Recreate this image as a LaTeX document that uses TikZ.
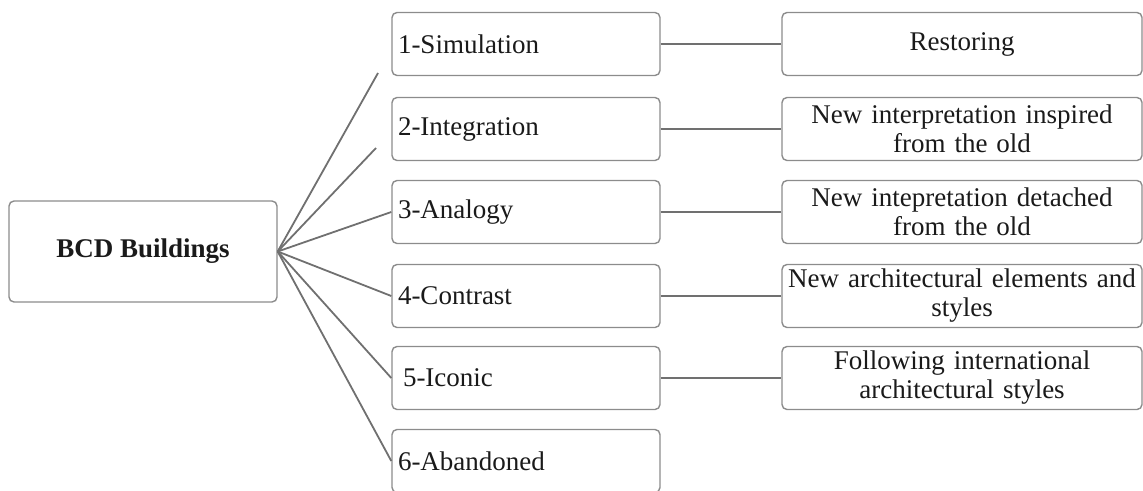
\documentclass[tikz,border=0pt]{standalone}
\usepackage{fontspec}
\setmainfont{Liberation Serif}
\definecolor{boxline}{HTML}{8C8C8C}
\definecolor{linkline}{HTML}{707070}
\definecolor{ink}{HTML}{1A1A1A}
\begin{document}
\begin{tikzpicture}[x=1pt,y=-1pt,
  every node/.style={text=ink, font=\fontsize{27}{29}\selectfont},
  box/.style={draw=boxline, line width=1.4pt, rounded corners=5pt, fill=white},
  rootbox/.style={box, minimum width=268pt, minimum height=101pt, font=\fontsize{27}{29}\selectfont\bfseries},
  typebox/.style={box, minimum width=268pt, minimum height=63pt, inner xsep=6pt, text width=256pt, align=left},
  descbox/.style={box, minimum width=360pt, minimum height=63pt, inner xsep=2pt, inner ysep=0pt, text width=356pt, align=center},
  link/.style={draw=linkline, line width=1.8pt}]
\useasboundingbox (0,0) rectangle (1143,490);

% root
\node[rootbox] (root) at (143,251.5) {BCD Buildings};

% intervention types
\node[typebox] (t1) at (526,44)  {1-Simulation};
\node[typebox] (t2) at (526,129) {2-Integration};
\node[typebox] (t3) at (526,212) {3-Analogy};
\node[typebox] (t4) at (526,296) {4-Contrast};
\node[typebox] (t5) at (526,378) {\hspace*{5pt}5-Iconic};
\node[typebox] (t6) at (526,461) {6-Abandoned};

% descriptions
\node[descbox] (d1) at (962,44)  {\raisebox{-3pt}{Restoring}};
\node[descbox] (d2) at (962,129) {New interpretation inspired\\from the old};
\node[descbox] (d3) at (962,212) {New intepretation detached\\from the old};
\node[descbox] (d4) at (962,296) {New architectural elements and\\styles};
\node[descbox] (d5) at (962,378) {Following international\\architectural styles};

% fan from the root
\coordinate (f1) at (378,73);
\coordinate (f2) at (376,148);
\draw[link] (root.east) -- (f1);
\draw[link] (root.east) -- (f2);
\draw[link] (root.east) -- (t3.west);
\draw[link] (root.east) -- (t4.west);
\draw[link] (root.east) -- (t5.west);
\draw[link] (root.east) -- (t6.west);

% type to description
\foreach \i in {1,...,5}
  \draw[link] (t\i.east) -- (d\i.west);
\end{tikzpicture}
\end{document}
